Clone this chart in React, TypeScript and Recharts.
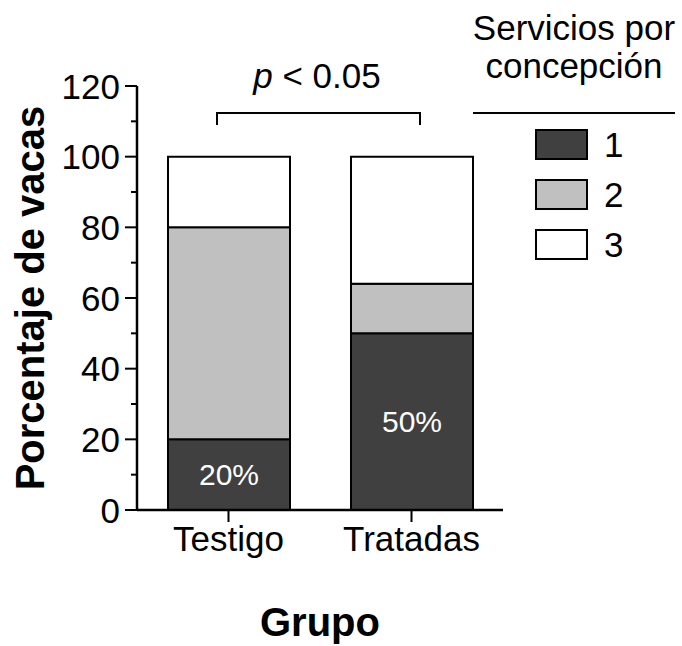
import { BarChart, Bar, XAxis, YAxis, LabelList, Customized } from "recharts";

const grupos = ["Testigo", "Tratadas"];
const servicio1 = [20, 50];
const servicio2 = [60, 14];
const servicio3 = [20, 36];
const yTicks = [0, 10, 20, 30, 40, 50, 60, 70, 80, 90, 100, 110, 120];
const series = [
  { key: "s1", name: "1", fill: "#404040" },
  { key: "s2", name: "2", fill: "#c0c0c0" },
  { key: "s3", name: "3", fill: "#ffffff" },
];

const FONT = "'Liberation Sans', Arial, sans-serif";

const data = grupos.map((g, i) => ({
  grupo: g,
  s1: servicio1[i],
  s2: servicio2[i],
  s3: servicio3[i],
}));

// major ticks every 20 with a label, minor ticks in between
const YTick = (props: any) => {
  const { x, y, payload } = props;
  const major = payload.value % 20 === 0;
  return (
    <g>
      <line x1={x - (major ? 12 : 6)} x2={x} y1={y} y2={y} stroke="#000" strokeWidth={2} />
      {major && (
        <text x={x - 17} y={y} dy="0.36em" textAnchor="end" fontSize={35} fontFamily={FONT} fill="#000">
          {payload.value}
        </text>
      )}
    </g>
  );
};

const Extras = () => (
  <g fontFamily={FONT} fill="#000">
    {/* significance bracket */}
    <path d="M217,125 V113 H420 V125" fill="none" stroke="#000" strokeWidth={2} />
    <text x={317} y={88} textAnchor="middle" fontSize={35}>
      <tspan fontStyle="italic">p</tspan> {"< 0.05"}
    </text>
    {/* legend */}
    <text x={574} y={40} textAnchor="middle" fontSize={35}>Servicios por</text>
    <text x={574} y={78} textAnchor="middle" fontSize={35}>concepción</text>
    <line x1={473} x2={675} y1={113} y2={113} stroke="#000" strokeWidth={2} />
    {series.map((s, i) => (
      <g key={s.key}>
        <rect x={536} y={130 + i * 50} width={51} height={29} fill={s.fill} stroke="#000" strokeWidth={2} />
        <text x={604} y={157 + i * 50} fontSize={35}>{s.name}</text>
      </g>
    ))}
  </g>
);

export default function App() {
  return (
    <div style={{ position: "absolute", left: 0, top: 0, background: "#fff" }}>
      <BarChart
        width={682}
        height={646}
        data={data}
        margin={{ top: 86, right: 179, left: 0, bottom: 0 }}
        barSize={122}
      >
        <XAxis
          dataKey="grupo"
          height={136}
          axisLine={{ stroke: "#000", strokeWidth: 2.5 }}
          tickLine={{ stroke: "#000", strokeWidth: 2 }}
          tickSize={12}
          tickMargin={4}
          tick={{ fontSize: 35, fill: "#000", fontFamily: FONT }}
          label={{
            value: "Grupo",
            position: "insideBottom",
            offset: 10,
            style: { fontSize: 40, fontWeight: "bold", fill: "#000", fontFamily: FONT },
          }}
        />
        <YAxis
          width={137}
          domain={[0, 120]}
          ticks={yTicks}
          interval={0}
          axisLine={{ stroke: "#000", strokeWidth: 2.5 }}
          tickLine={false}
          tickSize={0}
          tickMargin={0}
          tick={<YTick />}
          label={{
            value: "Porcentaje de vacas",
            angle: -90,
            position: "insideLeft",
            offset: 30,
            style: { textAnchor: "middle", fontSize: 40, fontWeight: "bold", fill: "#000", fontFamily: FONT },
          }}
        />
        {series.map((s) => (
          <Bar
            key={s.key}
            dataKey={s.key}
            name={s.name}
            stackId="a"
            fill={s.fill}
            stroke="#000"
            strokeWidth={2}
            isAnimationActive={false}
          >
            {s.key === "s1" && (
              <LabelList
                dataKey="s1"
                position="center"
                formatter={(v: any) => `${v}%`}
                fill="#fff"
                stroke="none"
                fontSize={30}
                fontFamily={FONT}
              />
            )}
          </Bar>
        ))}
        <Customized component={Extras} />
      </BarChart>
    </div>
  );
}
